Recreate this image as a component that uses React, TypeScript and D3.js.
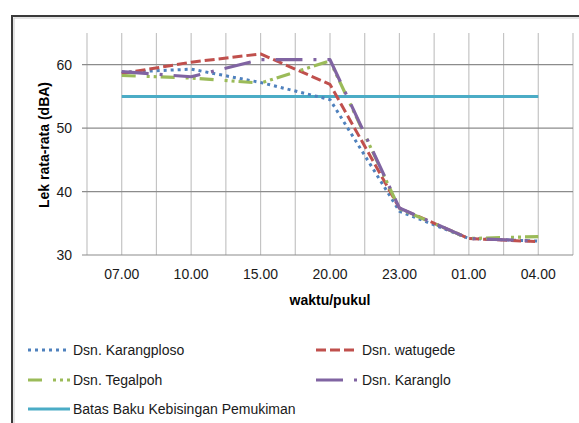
import React, { useEffect, useRef } from "react";
import * as d3 from "d3";

// categories and series values
const categories = ["07.00", "10.00", "15.00", "20.00", "23.00", "01.00", "04.00"];
const karangploso = [58.8, 59.3, 57.2, 54.5, 36.9, 32.6, 32.2];
const watugede = [58.6, 60.4, 61.7, 56.9, 37.4, 32.6, 32.1];
const tegalpoh = [58.3, 57.9, 57.1, 60.6, 37.3, 32.6, 32.9];
const karanglo = [58.9, 58.1, 60.8, 60.8, 37.4, 32.6, 32.2];
const batasBaku = [55, 55, 55, 55, 55, 55, 55];
const yTicks = [30, 40, 50, 60];

const seriesNames = [
  "Dsn. Karangploso",
  "Dsn. watugede",
  "Dsn. Tegalpoh",
  "Dsn. Karanglo",
  "Batas Baku Kebisingan Pemukiman",
];

export default function App() {
  const ref = useRef<SVGSVGElement>(null);

  useEffect(() => {
    var width = 579,
      height = 423;
    var font = "'Liberation Sans', Arial, sans-serif";

    var svg = d3.select(ref.current);
    svg.selectAll("*").remove();

    svg.append("rect").attr("width", width).attr("height", height).attr("fill", "white");

    // chart frame (runs past the right and bottom edges)
    svg
      .append("rect")
      .attr("x", 12)
      .attr("y", 16)
      .attr("width", 700)
      .attr("height", 600)
      .attr("fill", "white")
      .attr("stroke", "#3a3a3a")
      .attr("stroke-width", 2);
    svg
      .append("rect")
      .attr("x", 14)
      .attr("y", 18)
      .attr("width", 700)
      .attr("height", 600)
      .attr("fill", "none")
      .attr("stroke", "#c8c8c8")
      .attr("stroke-width", 1);

    var left = 87,
      right = 573,
      top = 33,
      bottom = 255;

    var x = d3.scaleBand().domain(categories).range([left, right]).padding(0);
    var y = d3.scaleLinear().domain([30, 65]).range([bottom, top]);
    var cx = (c: string) => (x(c) as number) + x.bandwidth() / 2;

    // vertical gridlines at band edges and centers
    var vLines: number[] = [];
    categories.forEach((c) => {
      vLines.push(x(c) as number);
      vLines.push(cx(c));
    });
    vLines.push(right);
    svg
      .append("g")
      .selectAll("line")
      .data(vLines)
      .enter()
      .append("line")
      .attr("x1", (d) => d)
      .attr("x2", (d) => d)
      .attr("y1", top)
      .attr("y2", bottom)
      .attr("stroke", "#c4c4c4")
      .attr("stroke-width", 1.2);

    // horizontal gridlines + tick marks
    svg
      .append("g")
      .selectAll("line")
      .data(yTicks)
      .enter()
      .append("line")
      .attr("x1", left - 5)
      .attr("x2", right)
      .attr("y1", (d) => y(d))
      .attr("y2", (d) => y(d))
      .attr("stroke", "#8c8c8c")
      .attr("stroke-width", 1.2);

    // y tick labels
    svg
      .append("g")
      .selectAll("text")
      .data(yTicks)
      .enter()
      .append("text")
      .attr("x", 72)
      .attr("y", (d) => y(d) + 5)
      .attr("text-anchor", "end")
      .style("font-family", font)
      .style("font-size", "14px")
      .attr("fill", "#1a1a1a")
      .text((d) => d);

    // x tick labels
    svg
      .append("g")
      .selectAll("text")
      .data(categories)
      .enter()
      .append("text")
      .attr("x", (d) => cx(d))
      .attr("y", 279)
      .attr("text-anchor", "middle")
      .style("font-family", font)
      .style("font-size", "14px")
      .attr("fill", "#1a1a1a")
      .text((d) => d);

    // axis titles
    svg
      .append("text")
      .attr("x", (left + right) / 2)
      .attr("y", 305)
      .attr("text-anchor", "middle")
      .style("font-family", font)
      .style("font-size", "14px")
      .style("font-weight", "bold")
      .text("waktu/pukul");
    svg
      .append("text")
      .attr("transform", "translate(49,145) rotate(-90)")
      .attr("text-anchor", "middle")
      .style("font-family", font)
      .style("font-size", "14px")
      .style("font-weight", "bold")
      .text("Lek rata-rata (dBA)");

    var series = [
      { name: seriesNames[0], values: karangploso, color: "#4f81bd", dash: "3 4", w: 3 },
      { name: seriesNames[1], values: watugede, color: "#c0504d", dash: "10 4", w: 3 },
      { name: seriesNames[2], values: tegalpoh, color: "#9bbb59", dash: "14 11 3 4 3 4", w: 3.2 },
      { name: seriesNames[3], values: karanglo, color: "#8064a2", dash: "27 11 3 11", w: 3.2 },
      { name: seriesNames[4], values: batasBaku, color: "#4bacc6", dash: null, w: 3 },
    ];

    var line = d3
      .line<number>()
      .x((d, i) => cx(categories[i]))
      .y((d) => y(d));

    // draw the baku line first, then the measured series on top
    [4, 0, 1, 2, 3].forEach((k) => {
      var s = series[k];
      svg
        .append("path")
        .datum(s.values)
        .attr("d", line)
        .attr("fill", "none")
        .attr("stroke", s.color)
        .attr("stroke-width", s.w)
        .attr("stroke-dasharray", s.dash)
        .attr("stroke-linejoin", "round");
    });

    // legend
    var legendPos = [
      { x: 28, y: 350, len: 40, tx: 73 },
      { x: 316, y: 350, len: 38, tx: 362 },
      { x: 28, y: 380, len: 42, tx: 73 },
      { x: 316, y: 380, len: 43, tx: 362 },
      { x: 28, y: 409, len: 42, tx: 73 },
    ];
    series.forEach((s, i) => {
      var p = legendPos[i];
      svg
        .append("line")
        .attr("x1", p.x)
        .attr("x2", p.x + p.len)
        .attr("y1", p.y)
        .attr("y2", p.y)
        .attr("stroke", s.color)
        .attr("stroke-width", s.w)
        .attr("stroke-dasharray", s.dash);
      svg
        .append("text")
        .attr("x", p.tx)
        .attr("y", p.y + 5)
        .style("font-family", font)
        .style("font-size", "14px")
        .attr("fill", "#1a1a1a")
        .text(s.name);
    });
  }, []);

  return (
    <svg
      ref={ref}
      width={579}
      height={423}
      style={{ position: "absolute", left: 0, top: 0, display: "block" }}
    />
  );
}
